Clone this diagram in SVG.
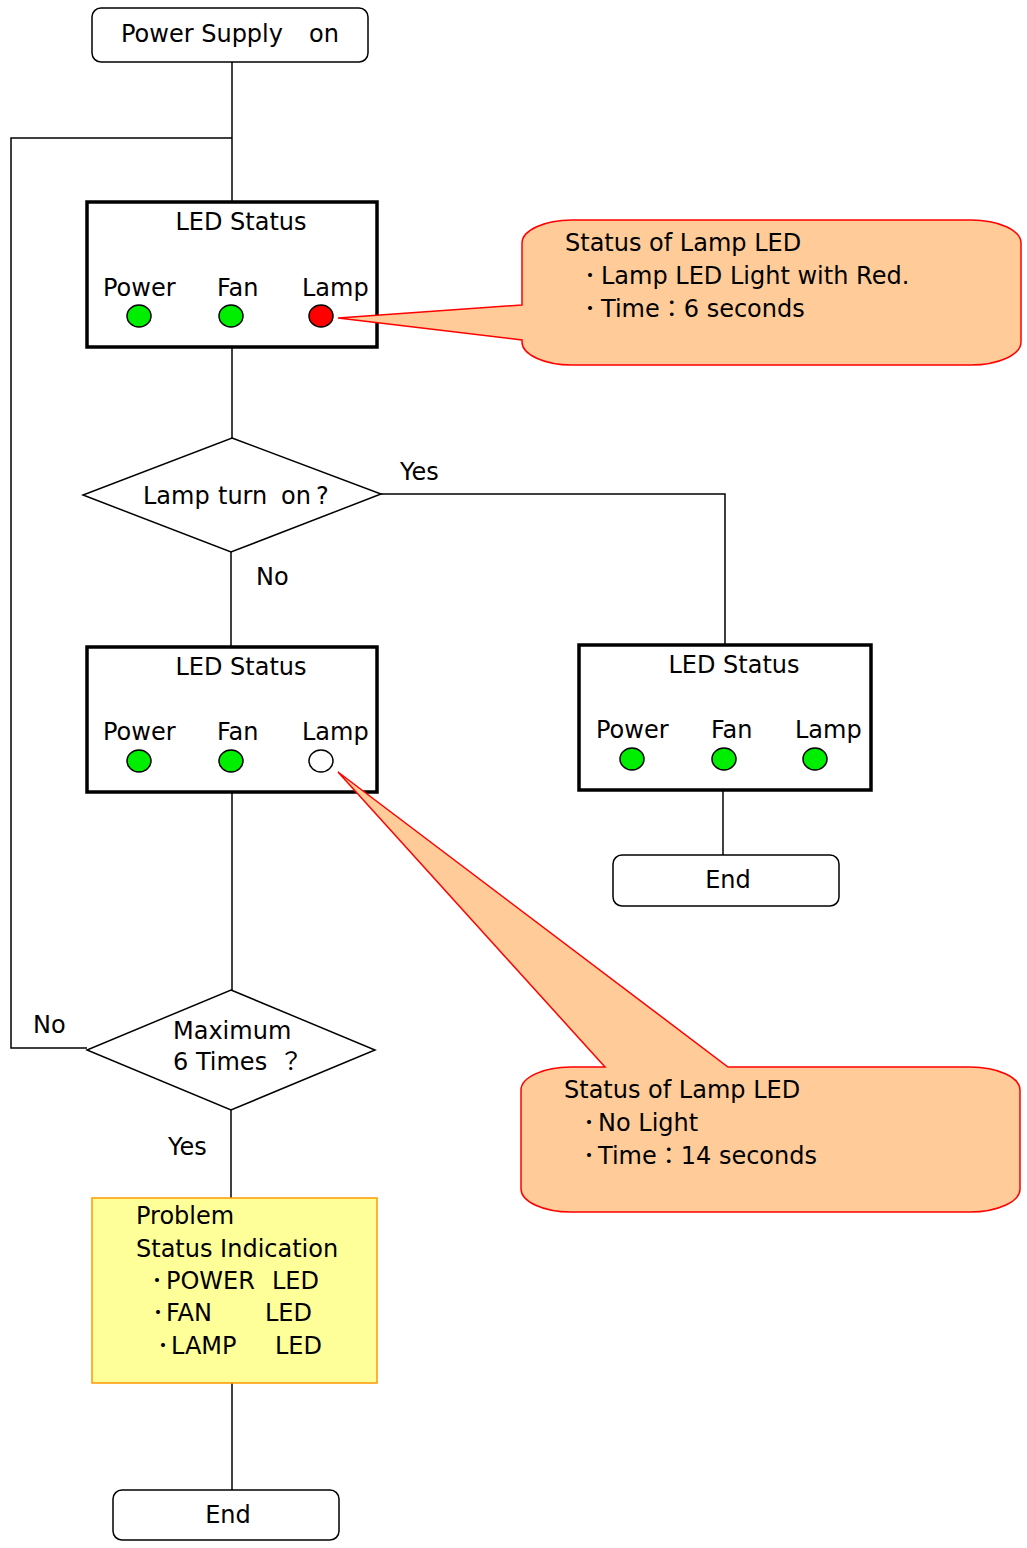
<svg xmlns="http://www.w3.org/2000/svg" width="1027" height="1548" viewBox="0 0 1027 1548">
<style>
text{font-family:"DejaVu Sans","Noto Sans CJK JP",sans-serif;font-size:24px;fill:#000}
.term{fill:#fff;stroke:#000;stroke-width:1.5}
.led{fill:#fff;stroke:#000;stroke-width:3.5}
.dia{fill:#fff;stroke:#000;stroke-width:1.5}
.conn line,.conn polyline{stroke:#000;stroke-width:1.5;fill:none}
.g{fill:#00ee00;stroke:#000;stroke-width:1.5}
.r{fill:#ff0000;stroke:#000;stroke-width:1.5}
.w{fill:#fff;stroke:#000;stroke-width:1.5}
.call{fill:#ffcc99;stroke:#ff0000;stroke-width:1.5}
.c{text-anchor:middle}
</style>
<g class="conn" id="connectors">
<line x1="232" y1="62" x2="232" y2="202"/>
<polyline points="232,138 11,138 11,1048 87,1048"/>
<line x1="232" y1="347" x2="232" y2="438"/>
<polyline points="381,494 725,494 725,645"/>
<line x1="231" y1="552" x2="231" y2="647"/>
<line x1="232" y1="792" x2="232" y2="990"/>
<line x1="231" y1="1110" x2="231" y2="1198"/>
<line x1="232" y1="1383" x2="232" y2="1490"/>
<line x1="723" y1="790" x2="723" y2="855"/>
</g>
<g id="labels">
<text x="400" y="480">Yes</text>
<text x="256" y="585">No</text>
<text x="33" y="1033">No</text>
<text x="168" y="1155">Yes</text>
</g>
<g id="start">
<rect class="term" x="92" y="8" width="276" height="54" rx="9"/>
<text x="121" y="42">Power Supply <tspan x="309">on</tspan></text>
</g>
<g id="led1">
<rect class="led" x="87" y="202" width="290" height="145"/>
<text x="241" y="230" class="c">LED Status</text>
<text x="103" y="296">Power</text>
<text x="217" y="296">Fan</text>
<text x="302" y="296">Lamp</text>
<ellipse class="g" cx="139" cy="316" rx="12" ry="11"/>
<ellipse class="g" cx="231" cy="316" rx="12" ry="11"/>
<ellipse class="r" cx="321" cy="316" rx="12" ry="11"/>
</g>
<g id="callout1">
<path class="call" d="M522,305 L338,318 L522,340 L522,342 A50 23 0 0 0 572,365 L971,365 A50 23 0 0 0 1021,342 L1021,243 A50 23 0 0 0 971,220 L572,220 A50 23 0 0 0 522,243 Z"/>
<text x="565" y="251">Status of Lamp LED</text>
<text x="584" y="284">･<tspan x="601">Lamp LED Light with Red.</tspan></text>
<text x="584" y="317">･<tspan x="601">Time：6 seconds</tspan></text>
</g>
<g id="decision1">
<polygon class="dia" points="232,438 381,494 231,552 83,495"/>
<text x="143" y="504">Lamp <tspan x="218">turn</tspan> <tspan x="281">on</tspan> <tspan x="316">?</tspan></text>
</g>
<g id="led2">
<rect class="led" x="87" y="647" width="290" height="145"/>
<text x="241" y="675" class="c">LED Status</text>
<text x="103" y="740">Power</text>
<text x="217" y="740">Fan</text>
<text x="302" y="740">Lamp</text>
<ellipse class="g" cx="139" cy="761" rx="12" ry="11"/>
<ellipse class="g" cx="231" cy="761" rx="12" ry="11"/>
<ellipse class="w" cx="321" cy="761" rx="12" ry="11"/>
</g>
<g id="led3">
<rect class="led" x="579" y="645" width="292" height="145"/>
<text x="734" y="673" class="c">LED Status</text>
<text x="596" y="738">Power</text>
<text x="711" y="738">Fan</text>
<text x="795" y="738">Lamp</text>
<ellipse class="g" cx="632" cy="759" rx="12" ry="11"/>
<ellipse class="g" cx="724" cy="759" rx="12" ry="11"/>
<ellipse class="g" cx="815" cy="759" rx="12" ry="11"/>
</g>
<g id="end1">
<rect class="term" x="613" y="855" width="226" height="51" rx="9"/>
<text x="728" y="888" class="c">End</text>
</g>
<g id="callout2">
<path class="call" d="M338,772 L605,1067 L572,1067 A50 23 0 0 0 521,1090 L521,1189 A50 23 0 0 0 571,1212 L970,1212 A50 23 0 0 0 1020,1189 L1020,1090 A50 23 0 0 0 970,1067 L728,1067 Z"/>
<text x="564" y="1098">Status of Lamp LED</text>
<text x="583" y="1131">･<tspan x="598">No Light</tspan></text>
<text x="583" y="1164">･<tspan x="598">Time：14 seconds</tspan></text>
</g>
<g id="decision2">
<polygon class="dia" points="231,990 375,1050 231,1110 87,1050"/>
<text x="173" y="1039">Maximum</text>
<text x="173" y="1070">6 Times <tspan x="279">？</tspan></text>
</g>
<g id="problem">
<rect x="92" y="1198" width="285" height="185" fill="#ffff99" stroke="#ff9900" stroke-width="1.5"/>
<text x="136" y="1224">Problem</text>
<text x="136" y="1257">Status Indication</text>
<text x="151" y="1289">･<tspan x="166">POWER</tspan> <tspan x="272">LED</tspan></text>
<text x="152" y="1321">･<tspan x="166">FAN</tspan> <tspan x="265">LED</tspan></text>
<text x="157" y="1354">･<tspan x="171">LAMP</tspan> <tspan x="275">LED</tspan></text>
</g>
<g id="end2">
<rect class="term" x="113" y="1490" width="226" height="50" rx="9"/>
<text x="228" y="1523" class="c">End</text>
</g>
</svg>
